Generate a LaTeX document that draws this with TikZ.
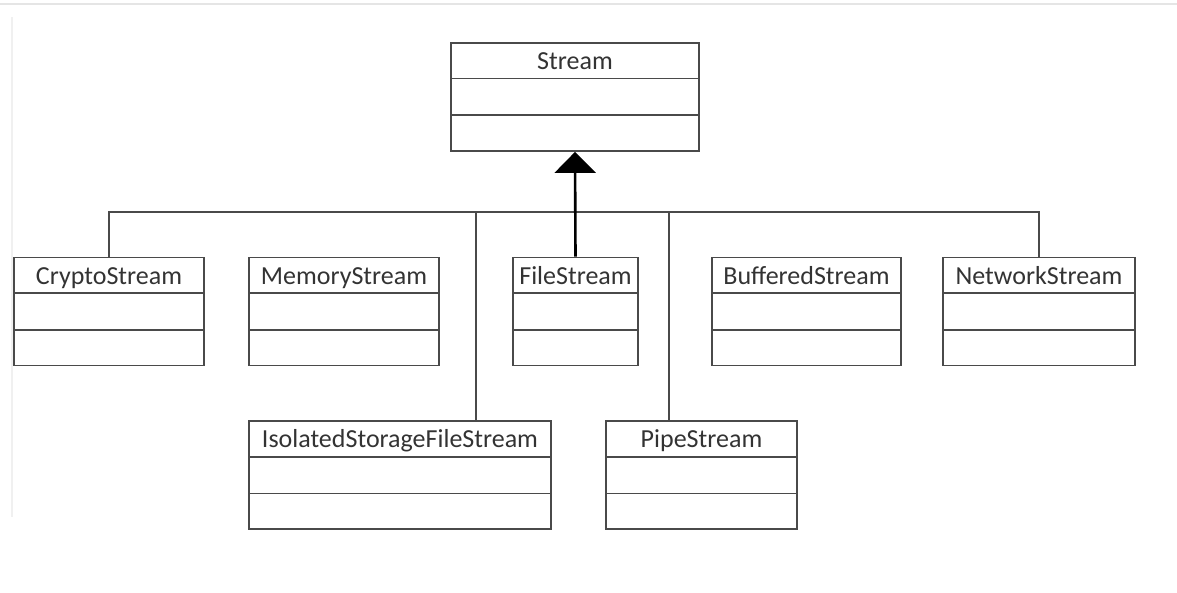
\documentclass[tikz,border=0pt]{standalone}
\usepackage{fontspec}
\setmainfont{Carlito}
\usetikzlibrary{calc,arrows.meta}

\definecolor{linegray}{HTML}{4A4A4A}
\definecolor{textgray}{HTML}{333333}

\tikzset{
  classbox/.style={draw=linegray, line width=1.8pt, minimum height=108pt, inner sep=0pt},
  divline/.style={draw=linegray, line width=1.6pt},
  classname/.style={text=textgray, font=\fontsize{26pt}{30pt}\selectfont, inner sep=0pt,
    text height=21pt, text depth=2pt},
  conn/.style={draw=linegray, line width=1.6pt},
  inherit/.style={draw=black, line width=2.6pt, -{Triangle[width=41pt,length=21pt]}}
}

% class box: name, centre, width, title
\newcommand{\umlclass}[4]{%
  \node[classbox, minimum width=#3] (#1) at (#2) {};
  \draw[divline] ($(#1.north west)!1/3!(#1.south west)$) -- ($(#1.north east)!1/3!(#1.south east)$);
  \draw[divline] ($(#1.north west)!2/3!(#1.south west)$) -- ($(#1.north east)!2/3!(#1.south east)$);
  \node[classname] (#1-title) at ($(#1.north)!1/6!(#1.south)$) {#4};
}

\begin{document}
\begin{tikzpicture}[x=1pt,y=-1pt]
  \useasboundingbox (0,0) rectangle (1177,593);
  % faint frame of the screenshot
  \draw[black!10, line width=2pt] (0,4) -- (1177,4);
  \draw[black!6, line width=1.5pt] (12,17) -- (12,517);

  % base class
  \umlclass{stream}{575,97}{248pt}{Stream}

  % first row
  \umlclass{crypto}{109,311.5}{190pt}{CryptoStream}
  \umlclass{memory}{344,311.5}{190pt}{MemoryStream}
  \umlclass{file}{575.5,311.5}{125pt}{FileStream}
  \umlclass{buffered}{806.5,311.5}{189pt}{BufferedStream}
  \umlclass{network}{1039,311.5}{192pt}{NetworkStream}

  % second row
  \umlclass{isolated}{400,475}{302pt}{IsolatedStorageFileStream}
  \umlclass{pipe}{701.5,475}{191pt}{PipeStream}

  % bus line
  \coordinate (bus) at (575,212);
  \coordinate (isodrop) at (476,212);
  \coordinate (pipedrop) at (669,212);
  \draw[conn] (crypto.north) |- (bus) -| (network.north);
  \draw[conn] (isodrop) -- (isodrop |- isolated.north);
  \draw[conn] (pipedrop) -- (pipedrop |- pipe.north);

  % generalisation arrow
  \draw[inherit] (file.north) -- (stream.south);
\end{tikzpicture}
\end{document}
